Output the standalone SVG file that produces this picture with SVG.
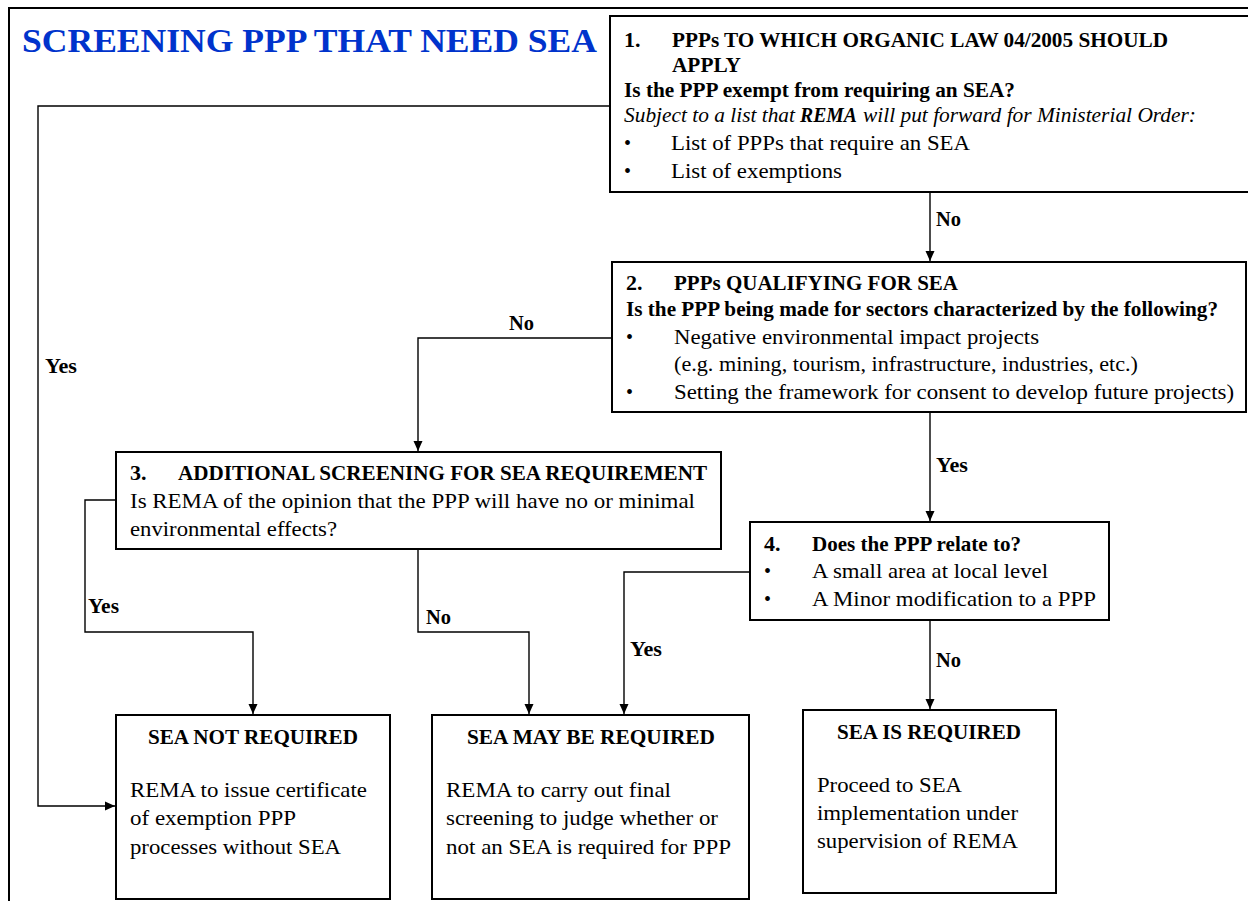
<svg xmlns="http://www.w3.org/2000/svg" width="1248" height="901" viewBox="0 0 1248 901">
<defs>
<marker id="arr" markerUnits="userSpaceOnUse" markerWidth="10" markerHeight="10" viewBox="0 0 10 10" refX="10" refY="5" orient="auto">
<path d="M0,0.5 L10,5 L0,9.5 Z" fill="#000"/>
</marker>
<style>
text{font-family:"Liberation Serif","Times New Roman",serif;font-size:22px;fill:#000}
.b{font-weight:bold}
.i{font-style:italic}
.lbl{font-weight:bold;font-size:20px}
.box{fill:#fff;stroke:#000;stroke-width:2}
.con path{fill:none;stroke:#000;stroke-width:1.4}
.title{font-weight:bold;font-size:34px;fill:#0033cc}
.bul{font-size:20px}
</style>
</defs>
<rect x="0" y="0" width="1248" height="901" fill="#fff"/>
<rect x="9" y="8" width="1260" height="920" fill="none" stroke="#000" stroke-width="2"/>
<text class="title" x="22" y="52" textLength="575" lengthAdjust="spacingAndGlyphs">SCREENING PPP THAT NEED SEA</text>

<g class="con">
<path d="M930,192 V261" marker-end="url(#arr)"/>
<path d="M610,106 H38 V806 H115" marker-end="url(#arr)"/>
<path d="M612,338 H418 V451" marker-end="url(#arr)"/>
<path d="M930,412 V521" marker-end="url(#arr)"/>
<path d="M116,500 H85 V632 H253 V714" marker-end="url(#arr)"/>
<path d="M418,549 V632 H529 V714" marker-end="url(#arr)"/>
<path d="M750,572 H624 V714" marker-end="url(#arr)"/>
<path d="M930,620 V709" marker-end="url(#arr)"/>
<text class="lbl" x="936" y="226" textLength="25" lengthAdjust="spacingAndGlyphs">No</text>
<text class="lbl" x="509" y="330" textLength="25" lengthAdjust="spacingAndGlyphs">No</text>
<text class="lbl" x="45" y="373" textLength="32" lengthAdjust="spacingAndGlyphs">Yes</text>
<text class="lbl" x="936" y="472" textLength="32" lengthAdjust="spacingAndGlyphs">Yes</text>
<text class="lbl" x="88" y="613" textLength="31" lengthAdjust="spacingAndGlyphs">Yes</text>
<text class="lbl" x="426" y="624" textLength="25" lengthAdjust="spacingAndGlyphs">No</text>
<text class="lbl" x="630" y="656" textLength="32" lengthAdjust="spacingAndGlyphs">Yes</text>
<text class="lbl" x="936" y="667" textLength="25" lengthAdjust="spacingAndGlyphs">No</text>
</g>

<g id="box1">
<rect class="box" x="610" y="16" width="660" height="176"/>
<text class="b" x="624" y="47">1.</text>
<text class="b" x="672" y="47" textLength="496" lengthAdjust="spacingAndGlyphs">PPPs TO WHICH ORGANIC LAW 04/2005 SHOULD</text>
<text class="b" x="672" y="72" textLength="69" lengthAdjust="spacingAndGlyphs">APPLY</text>
<text class="b" x="624" y="97" textLength="391" lengthAdjust="spacingAndGlyphs">Is the PPP exempt from requiring an SEA?</text>
<text class="i" x="624" y="122" textLength="171" lengthAdjust="spacingAndGlyphs">Subject to a list that</text>
<text class="i b" x="800" y="122" textLength="57" lengthAdjust="spacingAndGlyphs">REMA</text>
<text class="i" x="863" y="122" textLength="333" lengthAdjust="spacingAndGlyphs">will put forward for Ministerial Order:</text>
<text class="bul" x="624" y="150">•</text>
<text x="671" y="150" textLength="299" lengthAdjust="spacingAndGlyphs">List of PPPs that require an SEA</text>
<text class="bul" x="624" y="178">•</text>
<text x="671" y="178" textLength="171" lengthAdjust="spacingAndGlyphs">List of exemptions</text>
</g>

<g id="box2">
<rect class="box" x="612" y="262" width="634" height="150"/>
<text class="b" x="626" y="290">2.</text>
<text class="b" x="674" y="290" textLength="284" lengthAdjust="spacingAndGlyphs">PPPs QUALIFYING FOR SEA</text>
<text class="b" x="626" y="316" textLength="592" lengthAdjust="spacingAndGlyphs">Is the PPP being made for sectors characterized by the following?</text>
<text class="bul" x="626" y="344">•</text>
<text x="674" y="344" textLength="365" lengthAdjust="spacingAndGlyphs">Negative environmental impact projects</text>
<text x="674" y="371" textLength="464" lengthAdjust="spacingAndGlyphs">(e.g. mining, tourism, infrastructure, industries, etc.)</text>
<text class="bul" x="626" y="399">•</text>
<text x="674" y="399" textLength="560" lengthAdjust="spacingAndGlyphs">Setting the framework for consent to develop future projects)</text>
</g>

<g id="box3">
<rect class="box" x="116" y="452" width="605" height="97"/>
<text class="b" x="130" y="480">3.</text>
<text class="b" x="178" y="480" textLength="529" lengthAdjust="spacingAndGlyphs">ADDITIONAL SCREENING FOR SEA REQUIREMENT</text>
<text x="130" y="508" textLength="565" lengthAdjust="spacingAndGlyphs">Is REMA of the opinion that the PPP will have no or minimal</text>
<text x="130" y="536" textLength="207" lengthAdjust="spacingAndGlyphs">environmental effects?</text>
</g>

<g id="box4">
<rect class="box" x="750" y="522" width="359" height="98"/>
<text class="b" x="764" y="551">4.</text>
<text class="b" x="812" y="551" textLength="209" lengthAdjust="spacingAndGlyphs">Does the PPP relate to?</text>
<text class="bul" x="764" y="578">•</text>
<text x="812" y="578" textLength="236" lengthAdjust="spacingAndGlyphs">A small area at local level</text>
<text class="bul" x="764" y="606">•</text>
<text x="812" y="606" textLength="284" lengthAdjust="spacingAndGlyphs">A Minor modification to a PPP</text>
</g>

<g id="notRequired">
<rect class="box" x="116" y="715" width="274" height="184"/>
<text class="b" x="148" y="744" textLength="210" lengthAdjust="spacingAndGlyphs">SEA NOT REQUIRED</text>
<text x="130" y="797" textLength="237" lengthAdjust="spacingAndGlyphs">REMA to issue certificate</text>
<text x="130" y="825" textLength="166" lengthAdjust="spacingAndGlyphs">of exemption PPP</text>
<text x="130" y="854" textLength="211" lengthAdjust="spacingAndGlyphs">processes without SEA</text>
</g>

<g id="mayBeRequired">
<rect class="box" x="432" y="715" width="317" height="184"/>
<text class="b" x="467" y="744" textLength="248" lengthAdjust="spacingAndGlyphs">SEA MAY BE REQUIRED</text>
<text x="446" y="797" textLength="225" lengthAdjust="spacingAndGlyphs">REMA to carry out final</text>
<text x="446" y="825" textLength="272" lengthAdjust="spacingAndGlyphs">screening to judge whether or</text>
<text x="446" y="854" textLength="285" lengthAdjust="spacingAndGlyphs">not an SEA is required for PPP</text>
</g>

<g id="isRequired">
<rect class="box" x="803" y="710" width="253" height="183"/>
<text class="b" x="837" y="739" textLength="184" lengthAdjust="spacingAndGlyphs">SEA IS REQUIRED</text>
<text x="817" y="792" textLength="145" lengthAdjust="spacingAndGlyphs">Proceed to SEA</text>
<text x="817" y="820" textLength="201" lengthAdjust="spacingAndGlyphs">implementation under</text>
<text x="817" y="848" textLength="201" lengthAdjust="spacingAndGlyphs">supervision of REMA</text>
</g>
</svg>
